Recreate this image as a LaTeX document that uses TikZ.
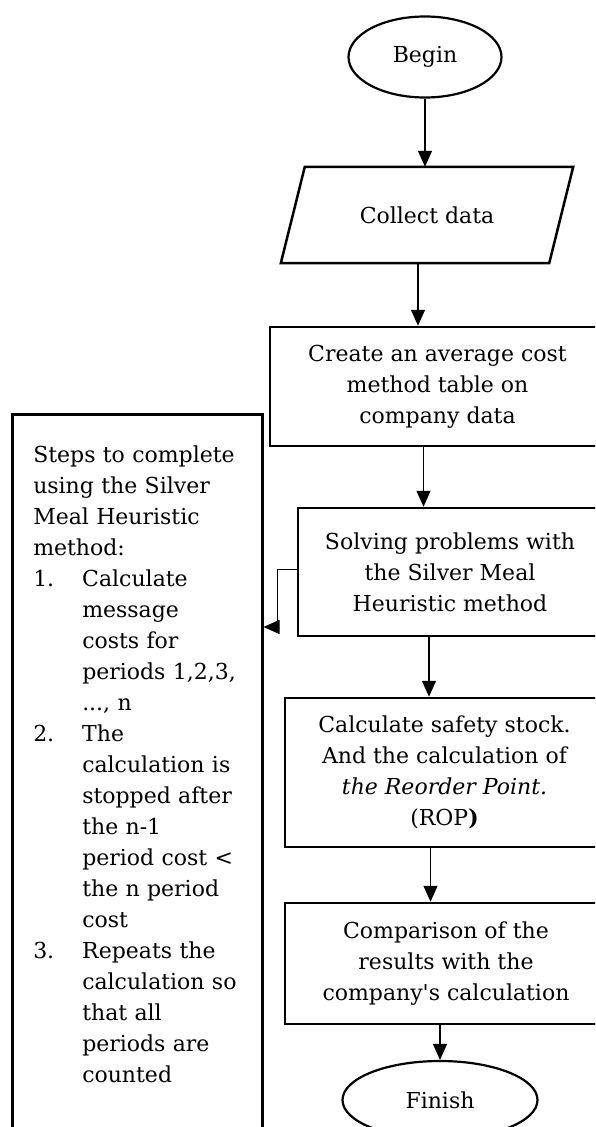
\documentclass[tikz,border=0pt]{standalone}
\usepackage{fontspec}
\setmainfont{DejaVu Serif}
\usetikzlibrary{arrows.meta,shapes.geometric}
\newcommand{\stepno}[1]{\makebox[49pt][l]{#1}}
\begin{document}
\begin{tikzpicture}[x=1pt,y=-1pt,font=\fontsize{22}{31}\selectfont,
		>={Triangle[width=14pt,length=16pt]},
		box/.style={draw,rectangle,line width=2.5pt,align=center,inner sep=0pt},
		term/.style={draw,ellipse,line width=2.2pt,inner sep=0pt},
		flow/.style={->,line width=1.3pt}]
	\useasboundingbox (0,0) rectangle (595,1127);
	\clip (0,0) rectangle (595,1127);
	% main column
	\node[term,minimum width=153pt,minimum height=81pt] (begin) at (425,57) {Begin};
	\node[minimum width=268pt,minimum height=96pt,inner sep=0pt] (data) at (427,215) {Collect data};
	\draw[line width=2.5pt,line join=miter] ([xshift=12pt]data.north west) -- ([xshift=12pt]data.north east)
		-- ([xshift=-12pt]data.south east) -- ([xshift=-12pt]data.south west) -- cycle;
	\node[box,minimum width=335pt,minimum height=119pt] (avg) at (437.5,386.5)
		{Create an average cost\\method table on\\company data};
	\node[box,minimum width=304pt,minimum height=128pt] (smh) at (450,572)
		{Solving problems with\\the Silver Meal\\Heuristic method};
	\node[box,minimum width=319pt,minimum height=149pt] (ss) at (444.5,772.5)
		{Calculate safety stock.\\And the calculation of\\\textit{the Reorder Point.}\\(ROP\textbf{)}};
	\node[box,minimum width=322pt,minimum height=121pt] (cmp) at (446,963.5)
		{Comparison of the\\results with the\\company\textquotesingle s calculation};
	\node[term,minimum width=195pt,minimum height=78pt] (finish) at (440,1100) {Finish};
	% side note
	\node[box,anchor=north west,align=left,text width=208pt,inner xsep=21pt,inner ysep=32pt] (steps) at (11,413)
		{Steps to complete\\using the Silver\\Meal Heuristic\\method:\\
		\stepno{1.}Calculate\\\stepno{}message\\\stepno{}costs for\\\stepno{}periods 1,2,3,\\\stepno{}..., n\\
		\stepno{2.}The\\\stepno{}calculation is\\\stepno{}stopped after\\\stepno{}the n-1\\\stepno{}period cost <\\\stepno{}the n period\\\stepno{}cost\\
		\stepno{3.}Repeats the\\\stepno{}calculation so\\\stepno{}that all\\\stepno{}periods are\\\stepno{}counted\rule[-80pt]{0pt}{0pt}};
	\coordinate (sidein) at (steps.east |- 0,627);
	% arrows
	\draw[flow] (begin) -- (begin |- data.north);
	\draw[flow] ([xshift=-9pt]data.south) -- ([xshift=-9pt]data.south |- avg.north);
	\draw[flow] ([xshift=-14pt]avg.south) -- ([xshift=-14pt]avg.south |- smh.north);
	\draw[flow] ([xshift=-21pt]smh.south) -- ([xshift=-21pt]smh.south |- ss.north);
	\draw[flow] ([xshift=-14pt]ss.south) -- ([xshift=-14pt]ss.south |- cmp.north);
	\draw[flow] (cmp.south -| finish) -- (finish);
	\draw[flow,line width=1pt] ([yshift=3pt]smh.west) -- ++(-19,0) |- (sidein);
\end{tikzpicture}
\end{document}
